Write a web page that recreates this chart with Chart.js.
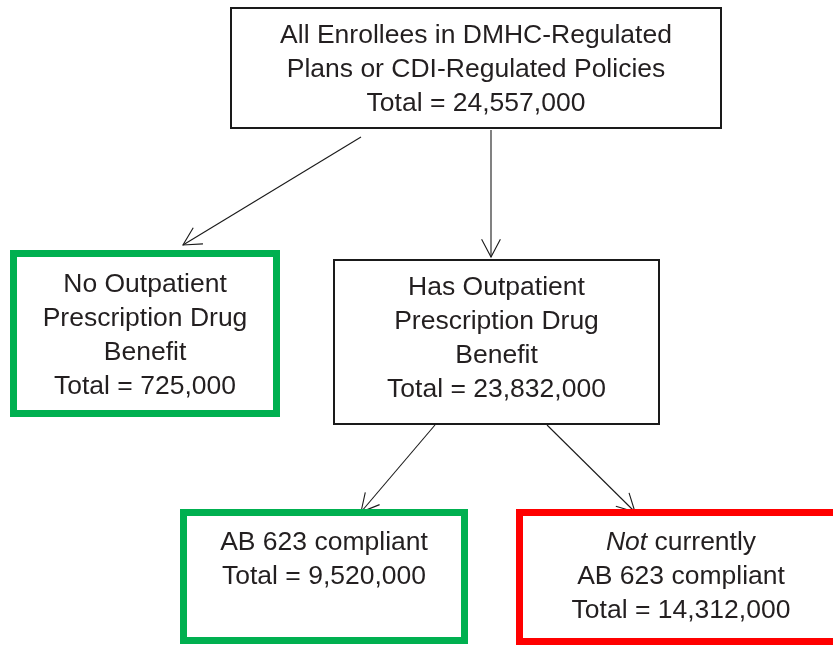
<!DOCTYPE html>
<html>
<head>
<meta charset="utf-8">
<script src="https://cdn.jsdelivr.net/npm/chart.js@4.4.1/dist/chart.umd.min.js"></script>
<style>
  html, body { margin: 0; padding: 0; background: #ffffff; }
  #wrap { width: 833px; height: 646px; }
</style>
</head>
<body>
<div id="wrap"><canvas id="c" width="833" height="646"></canvas></div>
<script>
// ---- Data ----
const nodeTitles = [
  ["All Enrollees in DMHC-Regulated", "Plans or CDI-Regulated Policies"],
  ["No Outpatient", "Prescription Drug", "Benefit"],
  ["Has Outpatient", "Prescription Drug", "Benefit"],
  ["AB 623 compliant"],
  ["<i>Not</i> currently", "AB 623 compliant"]
];
const nodeTotals = [24557000, 725000, 23832000, 9520000, 14312000];
const totalPrefix = "Total = ";
const edges = [[0, 1], [0, 2], [2, 3], [2, 4]];

// ---- Layout (data units of the hidden scales) ----
const boxLayout = [
  { x0: 230, x1: 722, y0: 7,   y1: 129, firstBase: 36, kind: "plain" },
  { x0: 10,  x1: 280, y0: 250, y1: 417, firstBase: 42, kind: "good" },
  { x0: 333, x1: 660, y0: 259, y1: 425, firstBase: 36, kind: "plain" },
  { x0: 180, x1: 468, y0: 509, y1: 644, firstBase: 41, kind: "good" },
  { x0: 516, x1: 846, y0: 509, y1: 645, firstBase: 41, kind: "bad" }
];
const edgeLayout = [
  { from: [361, 137], to: [183, 245] },
  { from: [491, 130], to: [491, 257] },
  { from: [435, 425], to: [361, 512] },
  { from: [547, 425], to: [635, 512] }
];
const styles = {
  plain: { color: "#1a1a1a", width: 2 },
  good:  { color: "#00b050", width: 7 },
  bad:   { color: "#ff0000", width: 7 }
};
const textColor = "#231f20";
const fontSize = 26.5;
const lineHeight = 34;
const fontFamily = '"Liberation Sans", Arial, sans-serif';

function parseSegments(line) {
  const segs = [];
  const re = /<i>(.*?)<\/i>/g;
  let last = 0, m;
  while ((m = re.exec(line)) !== null) {
    if (m.index > last) segs.push({ t: line.slice(last, m.index), i: false });
    segs.push({ t: m[1], i: true });
    last = re.lastIndex;
  }
  if (last < line.length) segs.push({ t: line.slice(last), i: false });
  return segs;
}

const flowPlugin = {
  id: "flow",
  beforeDraw(chart) {
    const ctx = chart.ctx;
    ctx.save();
    ctx.fillStyle = "#ffffff";
    ctx.fillRect(0, 0, chart.width, chart.height);
    ctx.restore();
  },
  afterDatasetsDraw(chart) {
    const ctx = chart.ctx;
    const xs = chart.scales.x, ys = chart.scales.y;
    const px = v => xs.getPixelForValue(v);
    const py = v => ys.getPixelForValue(v);

    ctx.save();
    ctx.strokeStyle = "#1a1a1a";
    ctx.lineWidth = 1.1;
    edges.forEach((e, k) => {
      const L = edgeLayout[k];
      const x1 = px(L.from[0]), y1 = py(L.from[1]);
      const x2 = px(L.to[0]), y2 = py(L.to[1]);
      ctx.beginPath();
      ctx.moveTo(x1, y1);
      ctx.lineTo(x2, y2);
      ctx.stroke();
      const ang = Math.atan2(y1 - y2, x1 - x2);
      const hl = 20, spread = 28 * Math.PI / 180;
      ctx.beginPath();
      ctx.moveTo(x2 + hl * Math.cos(ang + spread), y2 + hl * Math.sin(ang + spread));
      ctx.lineTo(x2, y2);
      ctx.lineTo(x2 + hl * Math.cos(ang - spread), y2 + hl * Math.sin(ang - spread));
      ctx.stroke();
    });
    ctx.restore();

    nodeTitles.forEach((title, n) => {
      const B = boxLayout[n];
      const st = styles[B.kind];
      const x0 = px(B.x0), x1 = px(B.x1), y0 = py(B.y0), y1 = py(B.y1);
      ctx.save();
      ctx.strokeStyle = st.color;
      ctx.lineWidth = st.width;
      const h = st.width / 2;
      ctx.strokeRect(x0 + h, y0 + h, (x1 - x0) - st.width, (y1 - y0) - st.width);
      ctx.restore();

      const lines = title.concat([totalPrefix + nodeTotals[n].toLocaleString("en-US")]);
      const cx = (x0 + x1) / 2;
      ctx.save();
      ctx.fillStyle = textColor;
      ctx.textBaseline = "alphabetic";
      ctx.textAlign = "left";
      lines.forEach((line, li) => {
        const segs = parseSegments(line);
        let w = 0;
        segs.forEach(s => {
          ctx.font = (s.i ? "italic " : "") + fontSize + "px " + fontFamily;
          s.w = ctx.measureText(s.t).width;
          w += s.w;
        });
        let x = cx - w / 2;
        const y = y0 + B.firstBase + li * lineHeight;
        segs.forEach(s => {
          ctx.font = (s.i ? "italic " : "") + fontSize + "px " + fontFamily;
          ctx.fillText(s.t, x, y);
          x += s.w;
        });
      });
      ctx.restore();
    });
  }
};

const centers = boxLayout.map((B, n) => ({ x: (B.x0 + B.x1) / 2, y: (B.y0 + B.y1) / 2, v: nodeTotals[n] }));

function build() {
  new Chart(document.getElementById("c"), {
    type: "scatter",
    data: {
      datasets: [{
        label: "Enrollees",
        data: centers,
        pointRadius: 0,
        pointHoverRadius: 0,
        showLine: false
      }]
    },
    options: {
      responsive: false,
      animation: false,
      events: [],
      layout: { padding: 0 },
      plugins: { legend: { display: false }, tooltip: { enabled: false } },
      scales: {
        x: { type: "linear", min: 0, max: 833, display: false },
        y: { type: "linear", min: 0, max: 646, reverse: true, display: false }
      }
    },
    plugins: [flowPlugin]
  });
}

Promise.all([
  document.fonts.load(fontSize + 'px "Liberation Sans"'),
  document.fonts.load('italic ' + fontSize + 'px "Liberation Sans"')
]).then(build, build);
</script>
</body>
</html>
